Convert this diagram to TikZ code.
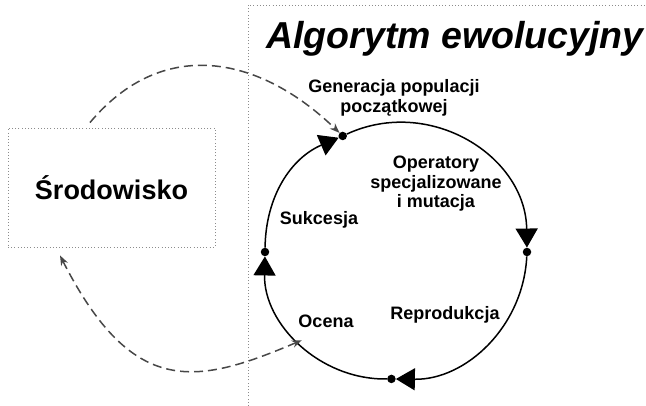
\documentclass[tikz,border=0pt]{standalone}
\usepackage{fontspec}
\setmainfont{Liberation Sans}
\usetikzlibrary{arrows.meta,calc}

\begin{document}
\begin{tikzpicture}[x=1pt,y=1pt,
    >={Stealth[length=10pt,width=7.5pt]},
    dot/.style={shape=circle,fill=black,inner sep=0pt,minimum size=8.5pt},
    lbl/.style={font=\fontsize{18}{19.5}\selectfont\bfseries,align=center},
    cyc/.style={line width=1.5pt,-{Triangle[length=19pt,width=22pt]}},
    flow/.style={draw=black!72,line width=1.5pt,dash pattern=on 9pt off 5pt},
    frame/.style={draw=black!45,line width=0.9pt,dash pattern=on 1pt off 2.2pt}]
    \useasboundingbox (0,0) rectangle (646,406);
    \draw[frame] (248,0) -- (248,401) -- (646,401);
    \node[font=\fontsize{37.5}{40}\selectfont\bfseries\itshape,anchor=base] (title) at (455,357) {Algorytm ewolucyjny};
    \node[frame,minimum width=207pt,minimum height=119pt,font=\fontsize{27}{30}\selectfont\bfseries] (env) at (111.5,218.5) {Środowisko};

    % cykl
    \coordinate (C) at (396,154);
    \node[dot] (dTop) at ($(C)+(114:131pt and 127pt)$) {};
    \node[dot] (dRight) at ($(C)+(0:131pt and 127pt)$) {};
    \node[dot] (dBot) at ($(C)+(268:131pt and 127pt)$) {};
    \node[dot] (dLeft) at ($(C)+(180:131pt and 127pt)$) {};
    \coordinate (evalPt) at ($(C)+(224:131pt and 127pt)$);
    \path[cyc] (dLeft) edge[bend left=33] (dTop);
    \path[cyc] (dTop) edge[bend left=57,looseness=1.1] (dRight);
    \path[cyc] (dRight) edge[bend left=44] (dBot);
    \path[cyc] (dBot) edge[bend left=46] (dLeft);

    \node[lbl] (gen) at (394,308) {Generacja populacji\\początkowej};
    \node[lbl] (oper) at (436,222) {Operatory\\specjalizowane\\i mutacja};
    \node[lbl] (sukc) at (319,186) {Sukcesja};
    \node[lbl] (ocena) at (326,85) {Ocena};
    \node[lbl] (repro) at (445,91) {Reprodukcja};

    % srodowisko
    \draw[flow,->] ([xshift=-21.5pt,yshift=5pt]env.north) to[out=50,in=136,looseness=1.15] (dTop);
    \draw[flow,<->] ([xshift=-51.5pt,yshift=-8pt]env.south) to[out=-63,in=203,out looseness=1.6,in looseness=1.15] (evalPt);
\end{tikzpicture}
\end{document}
